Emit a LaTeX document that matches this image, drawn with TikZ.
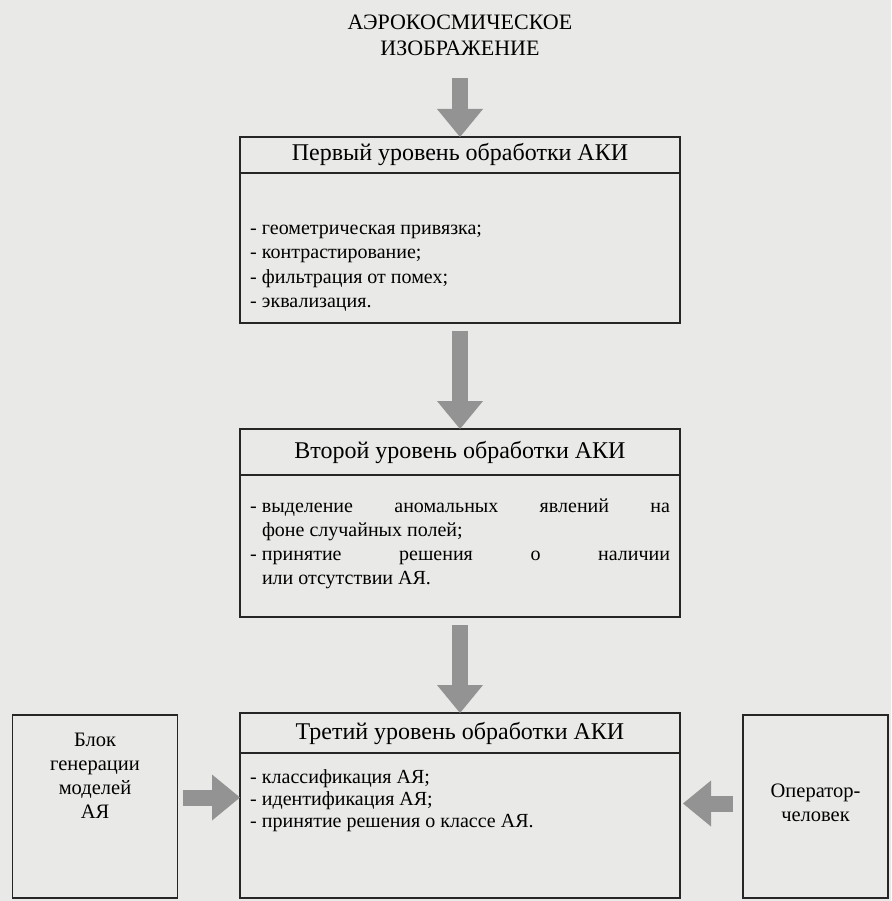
\documentclass[tikz,border=0pt]{standalone}
\usepackage{fontspec}
\setmainfont{Liberation Serif}
\usetikzlibrary{positioning,arrows.meta}

\definecolor{paper}{HTML}{E9E9E7}
\definecolor{arrowgray}{HTML}{939393}

% one list entry, later lines hang under the text
\newcommand{\itm}[1]{\noindent\hangindent=0.6em\hangafter=1
    \strut\makebox[0.6em][l]{-}#1\par}

\begin{document}
\begin{tikzpicture}[x=1pt,y=-1pt,
    frame/.style={draw=black!85, line width=1.2pt, outer sep=0pt, inner sep=0pt},
    headbox/.style={frame, minimum width=440pt, font=\fontsize{24}{28}\selectfont},
    bodybox/.style={frame, minimum width=440pt},
    items/.style={text width=420pt, inner sep=0pt, align=justify,
                  font=\fontsize{20}{24}\selectfont},
    sidebox/.style={frame, minimum height=183pt},
    sidetext/.style={align=center, inner sep=0pt, font=\fontsize{20.5}{24}\selectfont},
    bigarrow/.style={arrowgray, line width=16pt,
                     -{Triangle[width=46pt,length=28pt,line width=0pt]}}]

    % paper and page size
    \fill[paper] (0,0) rectangle (891,901);
    \useasboundingbox (0,0) rectangle (891,901);

    % Source image
    \node[align=center, font=\fontsize{22}{26}\selectfont] (img) at (460,35)
        {АЭРОКОСМИЧЕСКОЕ\\ИЗОБРАЖЕНИЕ};
    \coordinate (s1) at (460,78);

    % First level
    \node[headbox, minimum height=36pt] (t1) at (460,155) {Первый уровень обработки АКИ};
    \node[bodybox, minimum height=150pt, below=0pt of t1] (f1) {};
    \node[items, below=45pt of t1] (i1)
        {\itm{геометрическая привязка;}\itm{контрастирование;}%
         \itm{фильтрация от помех;}\itm{эквализация.}};

    % Second level
    \node[headbox, minimum height=46pt] (t2) at (460,452) {Второй уровень обработки АКИ};
    \node[bodybox, minimum height=142pt, below=0pt of t2] (f2) {};
    \node[items, below=20pt of t2] (i2)
        {\itm{выделение аномальных явлений на\linebreak фоне случайных полей;}%
         \itm{принятие решения о наличии\linebreak или отсутствии АЯ.}};

    % Third level
    \node[headbox, minimum height=40pt] (t3) at (460,733) {Третий уровень обработки АКИ};
    \node[bodybox, minimum height=145pt, below=0pt of t3] (f3) {};
    \node[items, font=\fontsize{20}{22}\selectfont, below=15pt of t3] (i3)
        {\itm{классификация АЯ;}\itm{идентификация АЯ;}%
         \itm{принятие решения о классе АЯ.}};

    % Side blocks
    \node[sidebox, minimum width=165pt] (gen) at (95,806.5) {};
    \node[sidetext] (gentext) at ([yshift=31pt]gen.center) {Блок\\генерации\\моделей\\АЯ};
    \node[sidebox, minimum width=145pt] (op) at (815.5,806.5) {};
    \node[sidetext] (optext) at ([yshift=4pt]op.center) {Оператор-\\человек};

    % Block arrows
    \draw[bigarrow] (s1) -- (t1.north);
    \draw[bigarrow, shorten <=8pt] (f1.south) -- (t2.north);
    \draw[bigarrow, shorten <=8pt] (f2.south) -- (t3.north);
    \draw[bigarrow, shorten <=5pt] ([yshift=9pt]gen.east) -- ([yshift=9pt]gen.east -| f3.west);
    \draw[bigarrow, shorten <=10pt, shorten >=3pt] ([yshift=3pt]op.west) -- ([yshift=3pt]op.west -| f3.east);
\end{tikzpicture}
\end{document}
